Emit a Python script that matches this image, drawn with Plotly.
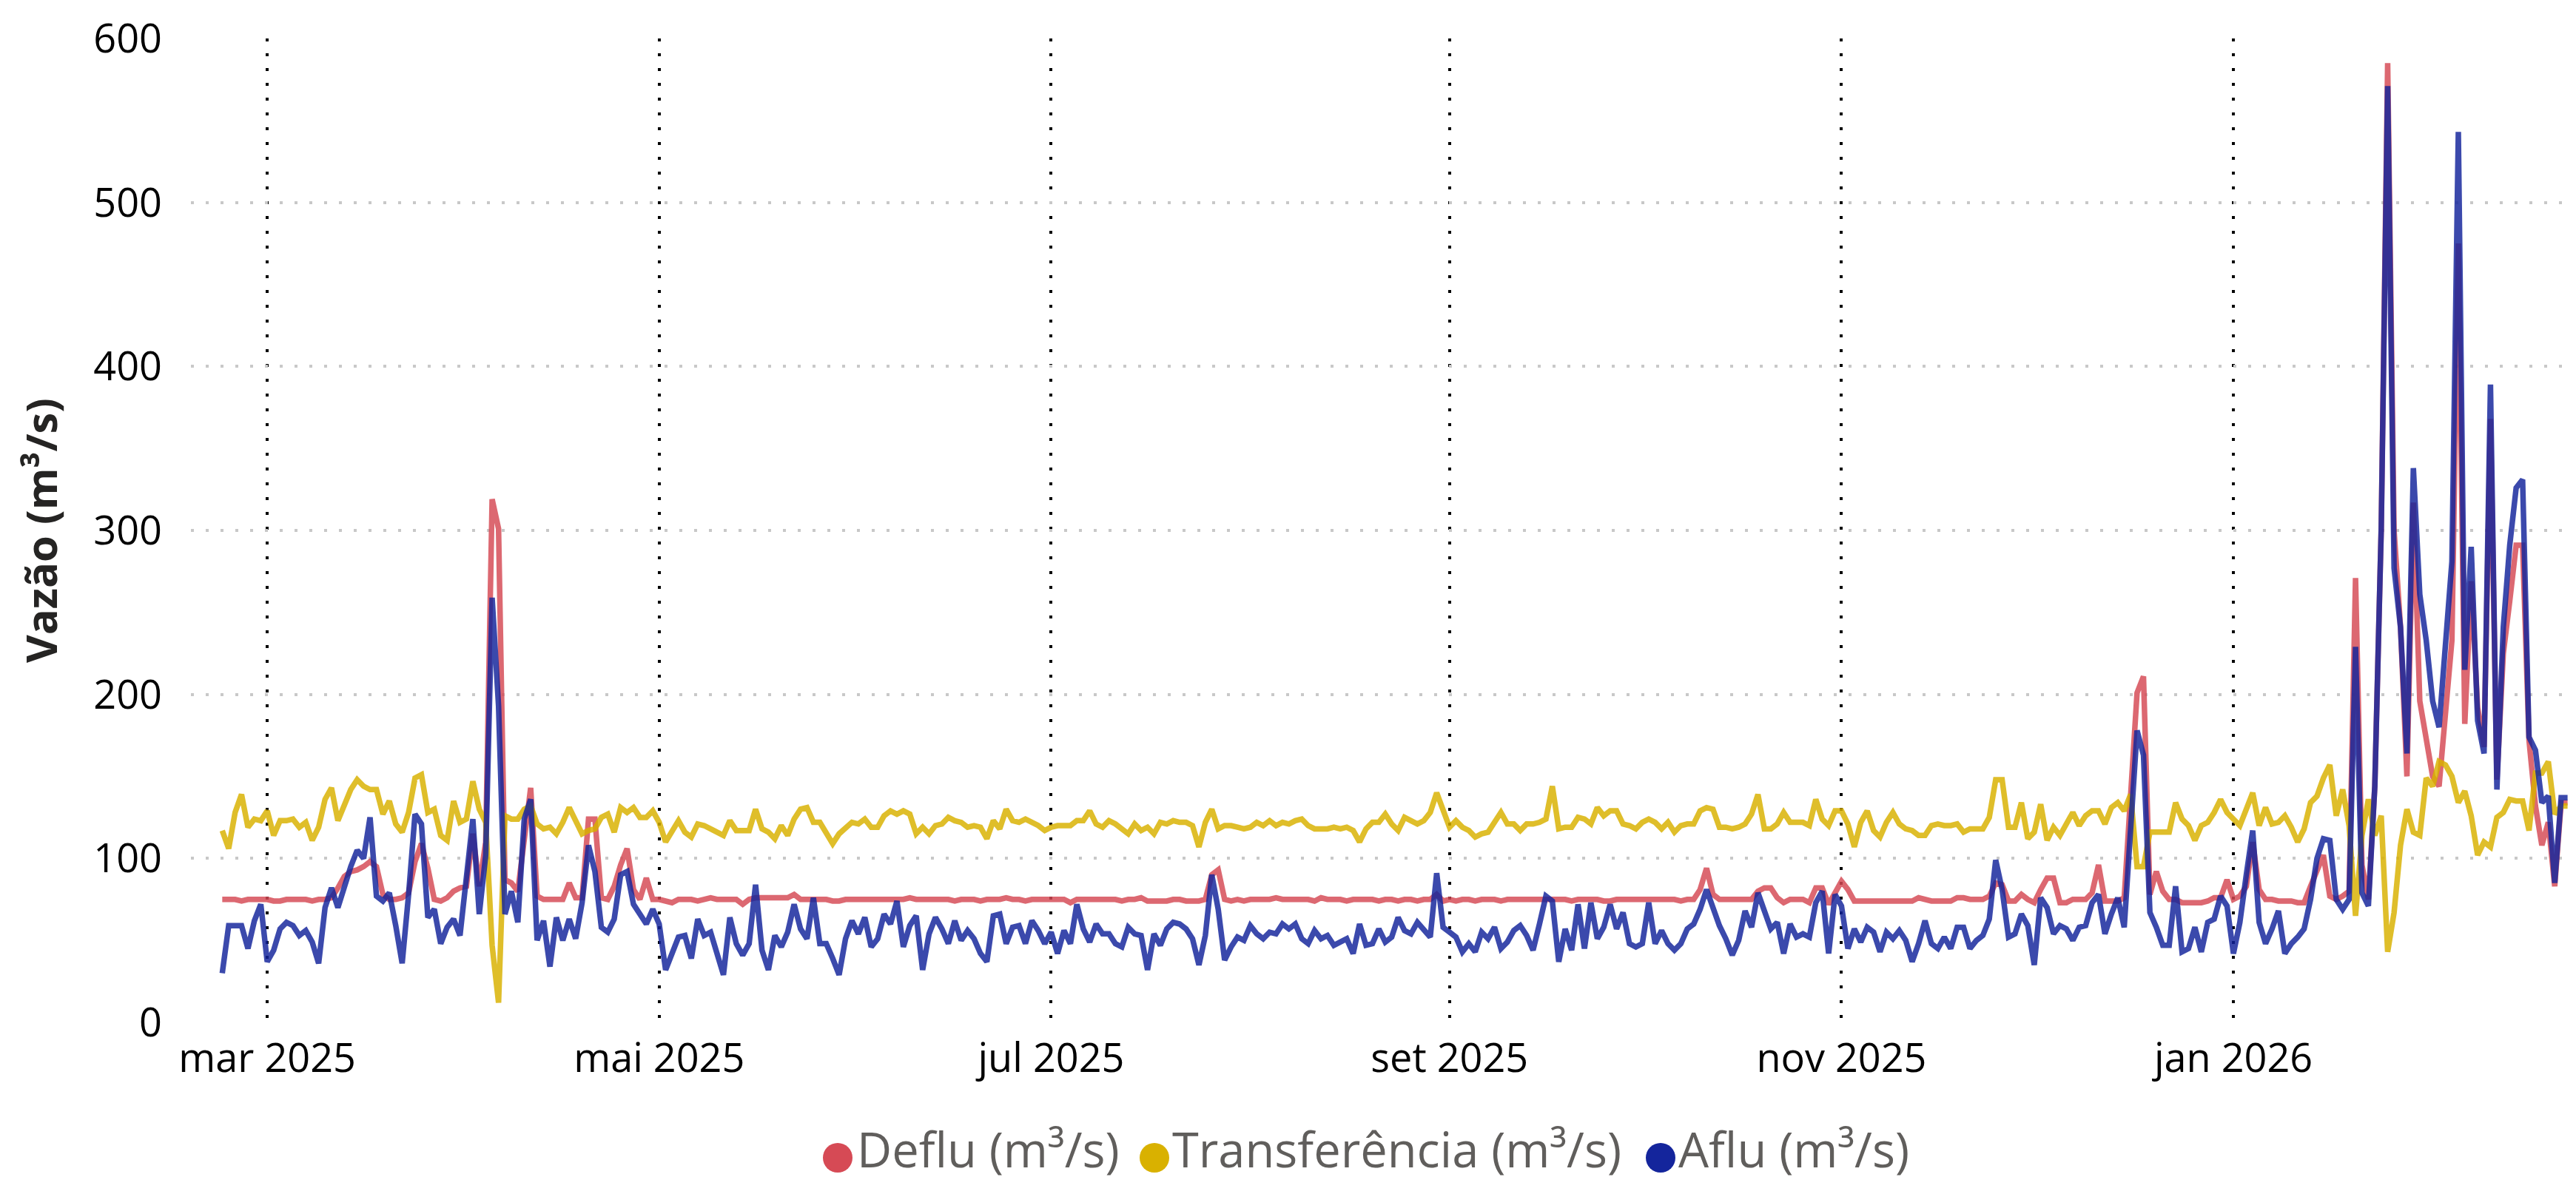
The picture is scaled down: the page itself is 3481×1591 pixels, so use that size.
import plotly.graph_objects as go
import pandas as pd

# ---------------- data ----------------
START_DATE = "2025-02-22"

AFLU = [
    30, 59, 59, 59, 45, 62, 72, 37, 44, 57,
    61, 59, 53, 56, 49, 36, 70, 82, 70, 84,
    95, 105, 100, 125, 77, 74, 79, 59, 36, 78,
    127, 121, 64, 69, 48, 58, 63, 53, 89, 124,
    66, 102, 259, 193, 66, 80, 61, 124, 136, 50,
    62, 34, 64, 50, 63, 51, 73, 108, 92, 58,
    55, 63, 90, 92, 72, 66, 60, 69, 60, 32,
    42, 52, 53, 39, 63, 53, 55, 41, 29, 64,
    48, 41, 48, 84, 44, 32, 53, 46, 55, 72,
    57, 51, 76, 48, 48, 39, 29, 51, 62, 54,
    64, 46, 51, 66, 60, 74, 46, 59, 65, 32,
    54, 64, 57, 48, 62, 50, 56, 51, 42, 37,
    65, 66, 48, 58, 59, 48, 62, 56, 48, 55,
    42, 56, 48, 72, 57, 49, 60, 54, 54, 48,
    46, 58, 54, 53, 32, 54, 47, 57, 61, 60,
    57, 51, 35, 53, 90, 69, 38, 46, 52, 50,
    59, 54, 51, 55, 54, 60, 57, 60, 51, 48,
    56, 51, 53, 47, 49, 51, 42, 60, 47, 48,
    57, 49, 52, 64, 56, 54, 61, 57, 52, 91,
    58, 55, 52, 43, 48, 43, 55, 51, 58, 45,
    49, 56, 59, 53, 44, 60, 77, 74, 37, 57,
    44, 72, 45, 73, 51, 58, 72, 57, 67, 48,
    46, 48, 73, 48, 56, 48, 44, 48, 57, 60,
    69, 81, 69, 59, 51, 41, 50, 68, 58, 79,
    68, 57, 61, 42, 60, 52, 54, 52, 73, 80,
    42, 78, 71, 45, 57, 49, 58, 55, 43, 55,
    51, 56, 50, 37, 48, 62, 48, 45, 52, 45,
    58, 58, 45, 50, 53, 63, 99, 81, 52, 54,
    66, 59, 35, 76, 70, 54, 59, 57, 50, 58,
    59, 73, 78, 54, 66, 76, 58, 116, 178, 163,
    67, 58, 47, 47, 83, 43, 45, 58, 43, 61,
    63, 77, 71, 42, 61, 90, 117, 61, 48, 57,
    68, 42, 48, 52, 57, 75, 100, 112, 111, 75,
    69, 75, 229, 79, 71, 144, 301, 571, 277, 241,
    164, 338, 261, 233, 196, 180, 233, 281, 543, 215,
    290, 184, 164, 389, 142, 241, 291, 326, 331, 174,
    166, 134, 138, 85, 137, 137,
]

DEFLU = [
    75, 75, 75, 74, 75, 75, 75, 75, 74, 74,
    75, 75, 75, 75, 74, 75, 75, 76, 82, 89,
    92, 93, 95, 98, 95, 78, 75, 75, 76, 79,
    98, 109, 94, 75, 74, 76, 80, 82, 83, 115,
    83, 110, 319, 301, 87, 85, 80, 111, 143, 77,
    75, 75, 75, 75, 85, 76, 76, 124, 124, 76,
    75, 83, 96, 106, 81, 75, 88, 75, 75, 74,
    73, 75, 75, 75, 74, 75, 76, 75, 75, 75,
    75, 72, 75, 76, 76, 76, 76, 76, 76, 78,
    75, 75, 75, 75, 75, 74, 74, 75, 75, 75,
    75, 75, 75, 75, 75, 75, 75, 76, 75, 75,
    75, 75, 75, 75, 74, 75, 75, 75, 74, 75,
    75, 75, 76, 75, 75, 74, 75, 75, 75, 75,
    75, 75, 73, 75, 75, 75, 75, 75, 75, 75,
    74, 75, 75, 76, 74, 74, 74, 74, 75, 75,
    74, 74, 74, 75, 90, 93, 75, 74, 75, 74,
    75, 75, 75, 75, 76, 75, 75, 75, 75, 75,
    74, 76, 75, 75, 75, 74, 75, 75, 75, 75,
    74, 75, 75, 74, 75, 75, 74, 75, 75, 78,
    74, 75, 74, 75, 75, 74, 75, 75, 75, 74,
    75, 75, 75, 75, 75, 75, 75, 75, 75, 75,
    74, 75, 75, 75, 75, 74, 74, 75, 75, 75,
    75, 75, 75, 75, 75, 75, 75, 74, 75, 75,
    81, 94, 78, 75, 75, 75, 75, 75, 75, 80,
    82, 82, 76, 73, 75, 75, 75, 73, 82, 82,
    72, 79, 86, 81, 74, 74, 74, 74, 74, 74,
    74, 74, 74, 74, 76, 75, 74, 74, 74, 74,
    76, 76, 75, 75, 75, 77, 85, 84, 74, 74,
    78, 75, 73, 81, 88, 88, 73, 73, 75, 75,
    75, 79, 96, 74, 74, 74, 76, 140, 201, 211,
    78, 92, 80, 75, 75, 73, 73, 73, 73, 74,
    76, 76, 87, 75, 77, 83, 110, 81, 75, 75,
    74, 74, 74, 73, 73, 83, 92, 102, 77, 75,
    77, 80, 271, 96, 75, 144, 301, 585, 300, 241,
    150, 317, 196, 172, 150, 144, 192, 233, 475, 182,
    269, 192, 168, 368, 148, 225, 257, 291, 291, 172,
    132, 108, 122, 83, 134, 134,
]

TRANSF = [
    117, 106, 128, 139, 119, 124, 123, 129, 114, 123,
    123, 124, 119, 122, 111, 119, 136, 143, 123, 132,
    142, 148, 144, 142, 142, 127, 135, 121, 116, 128,
    149, 151, 128, 130, 114, 111, 135, 122, 124, 147,
    130, 122, 47, 12, 126, 124, 124, 130, 132, 121,
    118, 119, 115, 122, 131, 123, 115, 117, 118, 125,
    127, 116, 131, 128, 131, 125, 125, 129, 122, 110,
    117, 123, 116, 113, 121, 120, 118, 116, 114, 123,
    117, 117, 117, 130, 118, 116, 112, 120, 114, 124,
    130, 131, 122, 122, 116, 109, 115, 118, 122, 121,
    124, 119, 119, 126, 129, 127, 129, 127, 115, 119,
    115, 120, 121, 125, 123, 122, 119, 120, 119, 112,
    123, 118, 130, 123, 122, 124, 122, 120, 117, 119,
    120, 120, 120, 123, 123, 129, 121, 119, 123, 121,
    118, 115, 121, 117, 119, 115, 122, 121, 123, 122,
    122, 120, 107, 122, 130, 118, 120, 120, 119, 118,
    119, 122, 120, 123, 120, 122, 121, 123, 124, 120,
    118, 118, 118, 119, 118, 119, 117, 110, 118, 122,
    122, 127, 121, 117, 125, 123, 121, 123, 128, 140,
    130, 119, 123, 119, 117, 113, 115, 116, 122, 128,
    121, 121, 117, 121, 121, 122, 124, 144, 118, 119,
    119, 125, 124, 121, 131, 126, 129, 129, 121, 120,
    118, 122, 124, 122, 118, 122, 116, 120, 121, 121,
    129, 131, 130, 119, 119, 118, 119, 121, 127, 139,
    118, 118, 121, 128, 122, 122, 122, 120, 136, 124,
    120, 129, 129, 121, 107, 122, 129, 117, 113, 122,
    128, 121, 118, 117, 114, 114, 120, 121, 120, 120,
    121, 116, 118, 118, 118, 125, 148, 148, 119, 119,
    134, 112, 116, 133, 111, 119, 114, 121, 128, 120,
    126, 129, 129, 121, 131, 134, 129, 139, 95, 95,
    116, 116, 116, 116, 134, 124, 120, 111, 120, 122,
    128, 136, 128, 124, 120, 130, 140, 120, 131, 121,
    122, 126, 119, 110, 118, 134, 138, 149, 157, 126,
    142, 120, 65, 114, 136, 114, 126, 43, 67, 108,
    130, 116, 114, 149, 144, 159, 157, 150, 134, 141,
    126, 102, 110, 107, 125, 128, 136, 135, 135, 117,
    152, 152, 159, 127, 132, 132,
]

SERIES_NAMES = ["Deflu (m³/s)", "Transferência (m³/s)", "Aflu (m³/s)"]
SERIES_COLORS = ["#D64A55", "#D9B100", "#14259C"]

TICK_DATES = ["2025-03-01", "2025-05-01", "2025-07-01", "2025-09-01", "2025-11-01", "2026-01-01"]
TICK_LABELS = ["mar 2025", "mai 2025", "jul 2025", "set 2025", "nov 2025", "jan 2026"]
Y_TICKS = [0, 100, 200, 300, 400, 500, 600]

# ---------------- figure ----------------
n = min(len(AFLU), len(DEFLU), len(TRANSF))
dates = pd.date_range(START_DATE, periods=n, freq="D")

W, H = 3481, 1591
ML, MR, MT, MB = 250, 6, 44, 217
PW, PH = W - ML - MR, H - MT - MB

FONT = "Open Sans, DejaVu Sans, sans-serif"

fig = go.Figure()
for name, vals, color in zip(SERIES_NAMES, [DEFLU, TRANSF, AFLU], SERIES_COLORS):
    fig.add_trace(go.Scatter(
        x=dates, y=vals[:n], mode="lines", name=name,
        line=dict(color=color, width=7.5),
        opacity=0.83, showlegend=False,
    ))

# custom legend (large circle markers + text), centred under the plot
legend_marker_px = [1124, 1552, 2236]
legend_text_px = [1148, 1574, 2258]
legend_marker_y_px = 1557
legend_text_y_px = 1545
shapes, annotations = [], []
for name, color, mx, tx in zip(SERIES_NAMES, SERIES_COLORS, legend_marker_px, legend_text_px):
    shapes.append(dict(
        type="circle", xref="paper", yref="paper",
        xsizemode="pixel", ysizemode="pixel",
        xanchor=(mx - ML) / PW, yanchor=(MT + PH - legend_marker_y_px) / PH,
        x0=-20, x1=20, y0=-20, y1=20,
        fillcolor=color, line=dict(width=0),
    ))
    annotations.append(dict(
        xref="paper", yref="paper", x=(tx - ML) / PW,
        y=(MT + PH - legend_text_y_px) / PH,
        xanchor="left", yanchor="middle", showarrow=False,
        text=name, font=dict(family=FONT, size=65, color="#605E5C"),
    ))

fig.update_layout(
    width=W, height=H,
    margin=dict(l=ML, r=MR, t=MT, b=MB),
    paper_bgcolor="white", plot_bgcolor="white",
    showlegend=False,
    shapes=shapes, annotations=annotations,
    xaxis=dict(
        type="date",
        range=["2025-02-17 03:00", "2026-02-23 13:00"],
        tickvals=TICK_DATES, ticktext=TICK_LABELS,
        showgrid=True, gridcolor="black", gridwidth=4, griddash="4px,16px",
        zeroline=False, showline=False, ticks="",
        tickfont=dict(family=FONT, size=54, color="#000000"),
        ticklabelstandoff=12,
    ),
    yaxis=dict(
        range=[0, 600], tickvals=Y_TICKS,
        showgrid=True, gridcolor="#C8C8C8", gridwidth=4, griddash="4px,16px",
        zeroline=False, showline=False, ticks="",
        tickfont=dict(family=FONT, size=54, color="#000000"),
        ticklabelstandoff=38,
        title=dict(text="Vazão (m³/s)", standoff=30,
                   font=dict(family=FONT, size=58, color="#252423", weight="bold")),
    ),
)

fig.write_html("out.html")
